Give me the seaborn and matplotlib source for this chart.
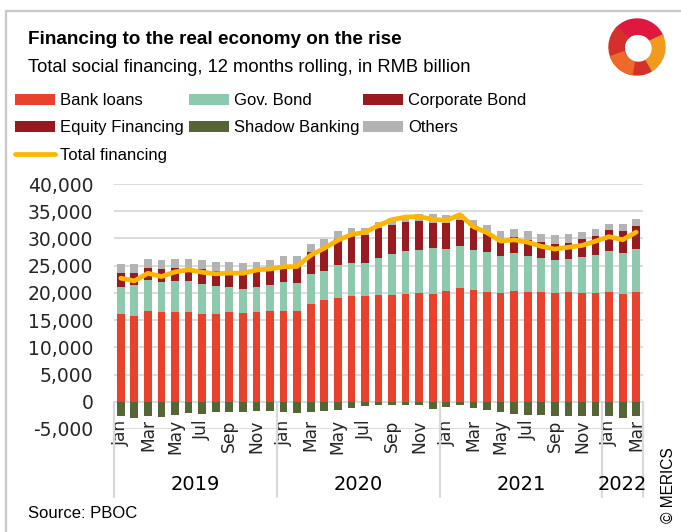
import numpy as np
import pandas as pd
import matplotlib
matplotlib.use("Agg")
import matplotlib.pyplot as plt
from matplotlib.patches import Patch, Wedge, Circle
from matplotlib.lines import Line2D
import seaborn as sns

# ---------------- data (RMB billion, 12 months rolling) ----------------
months = ["Jan", "Feb", "Mar", "Apr", "May", "Jun", "Jul", "Aug", "Sep", "Oct", "Nov", "Dec"] * 3 + ["Jan", "Feb", "Mar"]
years = ["2019", "2020", "2021", "2022"]

bank_loans = [16120, 15810, 16730, 16540, 16540, 16540, 16120, 16120, 16480, 16300, 16420, 16730,
              16730, 16730, 18000, 18740, 19100, 19440, 19440, 19620, 19680, 19780, 19960, 19840,
              20330, 20880, 20570, 20200, 19900, 20330, 20200, 20140, 20020, 20140, 19960, 19960,
              20200, 19840, 20200]
gov_bond = [5000, 5560, 5610, 5490, 5680, 5610, 5490, 5120, 4580, 4390, 4700, 4700,
            5360, 5060, 5380, 5250, 5990, 6020, 5960, 6840, 7550, 7870, 7930, 8360,
            7750, 7810, 7390, 7330, 6960, 7020, 6660, 6230, 6040, 6110, 6590, 6960,
            7450, 7510, 7940]
corporate_bond = [2270, 2020, 2020, 2010, 2050, 2110, 2340, 2320, 2550, 2920, 2840, 2750,
                  2460, 2740, 3570, 3490, 4290, 4490, 4500, 4670, 4420, 4570, 4460, 3810,
                  3840, 3810, 3060, 2490, 1800, 1830, 1880, 1850, 1830, 1800, 2140, 2410,
                  2630, 2730, 2840]
equity_financing = [300, 300, 300, 320, 330, 340, 350, 370, 380, 390, 400, 420,
                    440, 460, 500, 520, 560, 600, 650, 700, 760, 800, 850, 890,
                    920, 950, 960, 980, 1000, 1030, 1050, 1080, 1100, 1130, 1160, 1190,
                    1220, 1230, 1250]
shadow_banking = [-2560, -2990, -2690, -2810, -2440, -2075, -2200, -1950, -1950, -1830, -1770, -1770,
                  -1890, -2075, -1830, -1770, -1465, -1160, -855, -670, -610, -610, -610, -1340,
                  -980, -610, -1160, -1590, -1950, -2200, -2440, -2440, -2690, -2690, -2690, -2560,
                  -2560, -2990, -2560]
others = [1580, 1580, 1590, 1590, 1590, 1650, 1650, 1710, 1650, 1460, 1340, 1350,
          1770, 1710, 1540, 1980, 1430, 1400, 1310, 1130, 1410, 1040, 1350, 1650,
          1410, 1100, 1350, 1540, 1710, 1590, 1580, 1590, 1600, 1590, 1400, 1220,
          1220, 1350, 1340]
total_financing = [22700, 22200, 23600, 23000, 23850, 24250, 23800, 23500, 23650, 23600, 24200, 24400,
                   24800, 24850, 26920, 28200, 29670, 30710, 31130, 32380, 33450, 33940, 34000, 33510,
                   33330, 34370, 32150, 31050, 29500, 29750, 29300, 28550, 28050, 28380, 28720, 29500,
                   30330, 29760, 31160]

colors = {
    "Bank loans": "#E8412C",
    "Gov. Bond": "#8DCAAD",
    "Corporate Bond": "#9A1B1F",
    "Equity Financing": "#95191D",
    "Shadow Banking": "#556535",
    "Others": "#B3B3B3",
}
line_color = "#FFB600"
grid_color = "#D9D9D9"

df = pd.DataFrame({
    "idx": np.arange(len(months)),
    "month": months,
    "Bank loans": bank_loans,
    "Gov. Bond": gov_bond,
    "Corporate Bond": corporate_bond,
    "Equity Financing": equity_financing,
    "Shadow Banking": shadow_banking,
    "Others": others,
    "Total financing": total_financing,
})

# ---------------- style ----------------
sns.set_theme(style="white")
plt.rcParams["font.family"] = ["DejaVu Sans"]
plt.rcParams["text.color"] = "#000000"
narrow = "Liberation Sans"

W, H = 681, 532
fig = plt.figure(figsize=(W / 100, H / 100), dpi=100)
fig.patch.set_facecolor("white")

def fx(px):
    return px / W

def fy(py):
    return 1 - py / H

ax_left, ax_right, ax_top, ax_bottom = 114, 643, 184, 429
ax = fig.add_axes([fx(ax_left), fy(ax_bottom), (ax_right - ax_left) / W, (ax_bottom - ax_top) / H])
ax.set_facecolor("none")

# ---------------- bars ----------------
x = df["idx"].to_numpy()
bw = 0.57
pos_bottom = np.zeros(len(x))
for name in ["Bank loans", "Gov. Bond", "Corporate Bond", "Equity Financing"]:
    vals = df[name].to_numpy()
    ax.bar(x, vals, bottom=pos_bottom, width=bw, color=colors[name], linewidth=0, zorder=2)
    pos_bottom = pos_bottom + vals
ax.bar(x, df["Shadow Banking"], width=bw, color=colors["Shadow Banking"], linewidth=0, zorder=2)
ax.bar(x, df["Others"], bottom=pos_bottom, width=bw, color=colors["Others"], linewidth=0, zorder=2)

sns.lineplot(data=df, x="idx", y="Total financing", ax=ax, color=line_color, linewidth=3.4,
             zorder=3, solid_capstyle="round", solid_joinstyle="round")

# ---------------- axes ----------------
ax.set_xlim(-0.5, len(x) - 0.5)
ax.set_ylim(-5000, 40000)
yt = list(range(-5000, 40001, 5000))
ax.set_yticks(yt)
ax.set_yticklabels([f"{v:,}" for v in yt], fontsize=13.5)
for v in yt:
    ax.axhline(v, color=grid_color, linewidth=1.3, zorder=0)
tick_pos = [i for i in range(len(x)) if i % 2 == 0]
ax.set_xticks(tick_pos)
ax.set_xticklabels([months[i] for i in tick_pos], rotation=90, fontsize=12.3)
ax.tick_params(axis="x", length=0, pad=-7.0)
ax.tick_params(axis="y", length=0, pad=15)
ax.set_xlabel("")
ax.set_ylabel("")
for s in ax.spines.values():
    s.set_visible(False)
ax.grid(False)

# year separators and labels
zero_frac = 5000 / 45000
sep_bottom = (ax_bottom - 497) / (ax_bottom - ax_top)
for xs in [-0.5, 11.5, 23.5, 35.5, 38.5]:
    ax.plot([xs, xs], [zero_frac, sep_bottom], transform=ax.get_xaxis_transform(),
            color=grid_color, linewidth=1.6, clip_on=False, zorder=1)
year_y = (ax_bottom - 484) / (ax_bottom - ax_top)
for xc, yr in zip([5.5, 17.5, 29.5, 37.0], years):
    ax.text(xc, year_y, yr, transform=ax.get_xaxis_transform(), ha="center", va="center",
            fontsize=14)

# ---------------- titles ----------------
fig.text(fx(28), fy(44), "Financing to the real economy on the rise", family=narrow,
         fontsize=13.6, fontweight="bold", va="baseline", ha="left")
fig.text(fx(28), fy(72.5), "Total social financing, 12 months rolling, in RMB billion", family=narrow,
         fontsize=13.2, va="baseline", ha="left")

# ---------------- legend (three columns) ----------------
def patch(n):
    return Patch(facecolor=colors[n], edgecolor="none", label=n)

cols = [
    ([patch("Bank loans"), patch("Equity Financing"),
      Line2D([0], [0], color=line_color, linewidth=3.4, solid_capstyle="round", label="Total financing")], 15),
    ([patch("Gov. Bond"), patch("Shadow Banking")], 189),
    ([patch("Corporate Bond"), patch("Others")], 363),
]
for handles, xpx in cols:
    fig.legend(handles=handles, loc="upper left", bbox_to_anchor=(fx(xpx), fy(93)),
               frameon=False, borderpad=0, borderaxespad=0, handlelength=2.4, handleheight=0.66,
               handletextpad=0.3, labelspacing=0.74, prop={"family": narrow, "size": 12})

# ---------------- footer ----------------
fig.text(fx(28), fy(518), "Source: PBOC", family=narrow, fontsize=12, va="baseline", ha="left")
fig.text(fx(668), fy(485), "\u00a9 MERICS", family=narrow, fontsize=11.2, rotation=90,
         va="center", ha="center")

# ---------------- frame lines ----------------
fig.add_artist(Line2D([fx(6), 1], [fy(11), fy(11)], color="#C8C8C8", linewidth=1.6))
fig.add_artist(Line2D([fx(6), fx(6)], [fy(11), 0], color="#C8C8C8", linewidth=1.6))

# ---------------- logo ----------------
lax = fig.add_axes([fx(606), fy(82), 62 / W, 70 / H])
lax.set_xlim(-1.1, 1.1)
lax.set_ylim(-1.25, 1.25)
lax.set_aspect("equal")
lax.axis("off")
lax.add_patch(Wedge((0, 0), 1.0, 20, 140, width=0.55, color="#E0173F"))
lax.add_patch(Wedge((0, 0), 1.0, -60, 25, width=0.55, color="#F39A1E"))
lax.add_patch(Wedge((0, 0), 1.0, 135, 300, width=0.55, color="#D4312A"))
lax.add_patch(Wedge((0, 0), 1.0, 200, 260, width=0.5, color="#EE6A2A"))
lax.add_patch(Circle((0.05, -0.05), 0.45, color="white"))

fig.savefig("out.png", dpi=100)
